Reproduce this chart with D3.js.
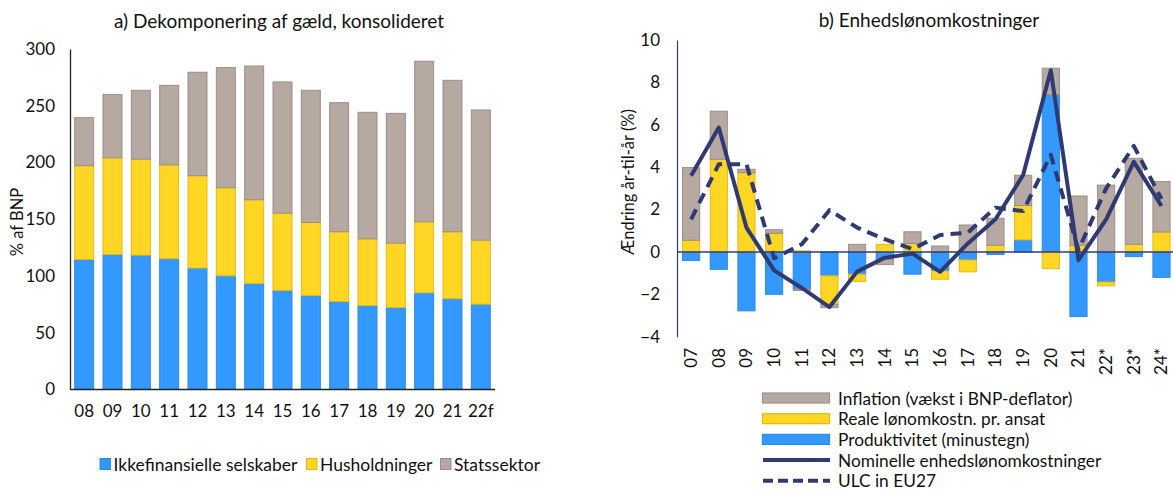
<!DOCTYPE html>
<html>
<head>
<meta charset="utf-8">
<script src="https://cdn.jsdelivr.net/npm/d3@7"></script>
<style>
  body { margin: 0; background: #fff; }
  svg { font-family: Lato, "Open Sans", sans-serif; }
</style>
</head>
<body>
<div id="chart"></div>
<script>
// Panel a) data (% af BNP)
const yearsA = ["08","09","10","11","12","13","14","15","16","17","18","19","20","21","22f"];
const corp = [114.6, 119, 118.4, 115.2, 107, 100.2, 93.4, 87.3, 82.9, 77.6, 74, 72.3, 85.2, 80, 75.2];
const households = [82.6, 85.2, 84.6, 82.8, 81.4, 77.6, 73.8, 68.1, 64.3, 61.4, 58.8, 56.7, 62.6, 59, 56.4];
const government = [42.3, 55.8, 60.6, 70, 91.1, 105.8, 117.8, 115.6, 116.4, 113.7, 111.4, 114.3, 141.4, 133.4, 114.7];
const ticksA = [0, 50, 100, 150, 200, 250, 300];

// Panel b) data (ændring år-til-år, %)
const yearsB = ["07","08","09","10","11","12","13","14","15","16","17","18","19","20","21","22*","23*","24*"];
const productivity = [-0.4, -0.82, -2.78, -2.0, -1.75, -1.13, -1.05, -0.35, -1.05, -0.9, -0.38, -0.12, 0.57, 7.41, -3.05, -1.42, -0.22, -1.2];
const realWage = [0.55, 4.37, 3.74, 0.88, 0.05, -1.34, -0.35, 0.36, 0.4, -0.39, -0.56, 0.31, 1.62, -0.79, 0.31, -0.18, 0.36, 0.94];
const inflation = [3.43, 2.27, 0.16, 0.17, -0.07, -0.16, 0.36, -0.25, 0.55, 0.28, 1.27, 1.28, 1.43, 1.26, 2.33, 3.15, 4.06, 2.38];
const nominalULC = [3.6, 5.87, 1.15, -0.87, -1.7, -2.6, -0.93, -0.27, -0.08, -0.94, 0.4, 1.54, 3.63, 8.57, -0.39, 1.54, 4.25, 2.17];
const ulcEU27 = [1.54, 4.14, 4.14, -0.3, 0.36, 1.97, 1.15, 0.6, 0.13, 0.8, 0.91, 2.09, 1.93, 4.58, 0.1, 3.0, 5.0, 2.5];
const ticksB = [-4, -2, 0, 2, 4, 6, 8, 10];

const BLUE = "#3399ff", YELLOW = "#ffd624", GREY = "#b6a9a1", NAVY = "#303a72";
const strokes = { blue: "#2a8be8", yellow: "#e3bb14", grey: "#9d8e86" };

const svg = d3.select("#chart").append("svg")
  .attr("width", 1173)
  .attr("height", 490);

// ---------- Panel a ----------
const xA = d3.scaleBand().domain(yearsA).range([70, 495]).paddingInner(0.33).paddingOuter(0.165);
const yA = d3.scaleLinear().domain([0, 300]).range([389.5, 49]);

const tableA = yearsA.map((y, i) => ({ year: y, corp: corp[i], hh: households[i], gov: government[i] }));
const stackA = d3.stack().keys(["corp", "hh", "gov"])(tableA);
const fillA = { corp: BLUE, hh: YELLOW, gov: GREY };
const strokeA = { corp: strokes.blue, hh: strokes.yellow, gov: strokes.grey };

const gA = svg.append("g");
gA.selectAll("g.layer")
  .data(stackA)
  .enter().append("g")
  .attr("fill", d => fillA[d.key])
  .attr("stroke", d => strokeA[d.key])
  .attr("stroke-width", 1)
  .selectAll("rect")
  .data(d => d)
  .enter().append("rect")
  .attr("x", d => xA(d.data.year))
  .attr("width", xA.bandwidth())
  .attr("y", d => yA(d[1]))
  .attr("height", d => yA(d[0]) - yA(d[1]));

const axisLeftA = gA.append("g")
  .attr("transform", "translate(70,0)")
  .call(d3.axisLeft(yA).tickValues(ticksA).tickSize(0).tickPadding(15));
axisLeftA.select(".domain").attr("stroke", "#222").attr("stroke-width", 1.3);
axisLeftA.selectAll("text").attr("font-size", 17).attr("fill", "#111").attr("font-family", "Lato, sans-serif");

const axisBottomA = gA.append("g")
  .attr("transform", "translate(0,389.5)")
  .call(d3.axisBottom(xA).tickSize(0).tickPadding(15));
axisBottomA.select(".domain").attr("stroke", "#222").attr("stroke-width", 1.3).attr("d", "M70,0H495");
axisBottomA.selectAll("text").attr("font-size", 17).attr("fill", "#111").attr("font-family", "Lato, sans-serif");

gA.append("text")
  .attr("x", 279).attr("y", 28)
  .attr("text-anchor", "middle")
  .attr("font-size", 19).attr("fill", "#111")
  .text("a) Dekomponering af gæld, konsolideret");

gA.append("text")
  .attr("transform", "translate(23,222) rotate(-90)")
  .attr("text-anchor", "middle")
  .attr("font-size", 16.5).attr("fill", "#111")
  .text("% af BNP");

// legend a
const legendA = [
  { label: "Ikkefinansielle selskaber", fill: BLUE, stroke: strokes.blue, x: 100 },
  { label: "Husholdninger", fill: YELLOW, stroke: strokes.yellow, x: 306.5 },
  { label: "Statssektor", fill: GREY, stroke: strokes.grey, x: 440.5 }
];
const legA = gA.selectAll("g.legA").data(legendA).enter().append("g")
  .attr("transform", d => `translate(${d.x},464)`);
legA.append("rect").attr("x", 0).attr("y", -5.5).attr("width", 10.5).attr("height", 11)
  .attr("fill", d => d.fill).attr("stroke", d => d.stroke);
legA.append("text").attr("x", 13.5).attr("y", 6.5).attr("font-size", 17.5).attr("fill", "#111").text(d => d.label);

// ---------- Panel b ----------
const xB = d3.scaleBand().domain(yearsB).range([677, 1175.6]).paddingInner(0.38).paddingOuter(0.2);
const yB = d3.scaleLinear().domain([-4, 10]).range([336.7, 40]);

const tableB = yearsB.map((y, i) => ({ year: y, prod: productivity[i], real: realWage[i], infl: inflation[i] }));
const stackB = d3.stack().keys(["prod", "real", "infl"]).offset(d3.stackOffsetDiverging)(tableB);
const fillB = { prod: BLUE, real: YELLOW, infl: GREY };
const strokeB = { prod: strokes.blue, real: strokes.yellow, infl: strokes.grey };

const gB = svg.append("g");
gB.selectAll("g.layer")
  .data(stackB)
  .enter().append("g")
  .attr("fill", d => fillB[d.key])
  .attr("stroke", d => strokeB[d.key])
  .attr("stroke-width", 1)
  .selectAll("rect")
  .data(d => d)
  .enter().append("rect")
  .attr("x", d => xB(d.data.year))
  .attr("width", xB.bandwidth())
  .attr("y", d => yB(Math.max(d[0], d[1])))
  .attr("height", d => Math.abs(yB(d[0]) - yB(d[1])));

const axisLeftB = gB.append("g")
  .attr("transform", "translate(677,0)")
  .call(d3.axisLeft(yB).tickValues(ticksB).tickSize(0).tickPadding(17));
axisLeftB.select(".domain").attr("stroke", NAVY).attr("stroke-width", 1.2);
axisLeftB.selectAll("text").attr("font-size", 17).attr("fill", "#111").attr("font-family", "Lato, sans-serif");

// zero line
gB.append("line")
  .attr("x1", 677).attr("x2", 1173)
  .attr("y1", yB(0)).attr("y2", yB(0))
  .attr("stroke", NAVY).attr("stroke-width", 1.5);

// rotated category labels
gB.selectAll("text.xlab")
  .data(yearsB)
  .enter().append("text")
  .attr("class", "xlab")
  .attr("transform", d => `translate(${xB(d) + xB.bandwidth() / 2 + 6},348) rotate(-90)`)
  .attr("text-anchor", "end")
  .attr("font-size", 17).attr("fill", "#111")
  .text(d => d);

const lineB = d3.line()
  .x((d, i) => xB(yearsB[i]) + xB.bandwidth() / 2)
  .y(d => yB(d));

gB.append("path")
  .attr("d", lineB(ulcEU27))
  .attr("fill", "none").attr("stroke", NAVY)
  .attr("stroke-width", 4).attr("stroke-dasharray", "11,7")
  .attr("stroke-linejoin", "round");

gB.append("path")
  .attr("d", lineB(nominalULC))
  .attr("fill", "none").attr("stroke", NAVY)
  .attr("stroke-width", 4).attr("stroke-linejoin", "round");

gB.append("text")
  .attr("x", 929).attr("y", 27)
  .attr("text-anchor", "middle")
  .attr("font-size", 19).attr("fill", "#111")
  .text("b) Enhedslønomkostninger");

gB.append("text")
  .attr("transform", "translate(634,182) rotate(-90)")
  .attr("text-anchor", "middle")
  .attr("font-size", 16.5).attr("fill", "#111")
  .text("Ændring år-til-år (%)");

// legend b
const legendB = [
  { label: "Inflation (vækst i BNP-deflator)", type: "rect", fill: GREY, stroke: strokes.grey },
  { label: "Reale lønomkostn. pr. ansat", type: "rect", fill: YELLOW, stroke: strokes.yellow },
  { label: "Produktivitet (minustegn)", type: "rect", fill: BLUE, stroke: strokes.blue },
  { label: "Nominelle enhedslønomkostninger", type: "line" },
  { label: "ULC in EU27", type: "dash" }
];
const legB = gB.selectAll("g.legB").data(legendB).enter().append("g")
  .attr("transform", (d, i) => `translate(762,${398 + i * 20.7})`);
legB.filter(d => d.type === "rect").append("rect")
  .attr("x", 0.5).attr("y", -5).attr("width", 67).attr("height", 10)
  .attr("fill", d => d.fill).attr("stroke", d => d.stroke).attr("stroke-width", 1.2);
legB.filter(d => d.type !== "rect").append("line")
  .attr("x1", 1).attr("x2", 68).attr("y1", 0).attr("y2", 0)
  .attr("stroke", NAVY).attr("stroke-width", 4)
  .attr("stroke-dasharray", d => d.type === "dash" ? "10,5" : null);
legB.append("text").attr("x", 76).attr("y", 6.5).attr("font-size", 17.3).attr("fill", "#111").text(d => d.label);
</script>
</body>
</html>
